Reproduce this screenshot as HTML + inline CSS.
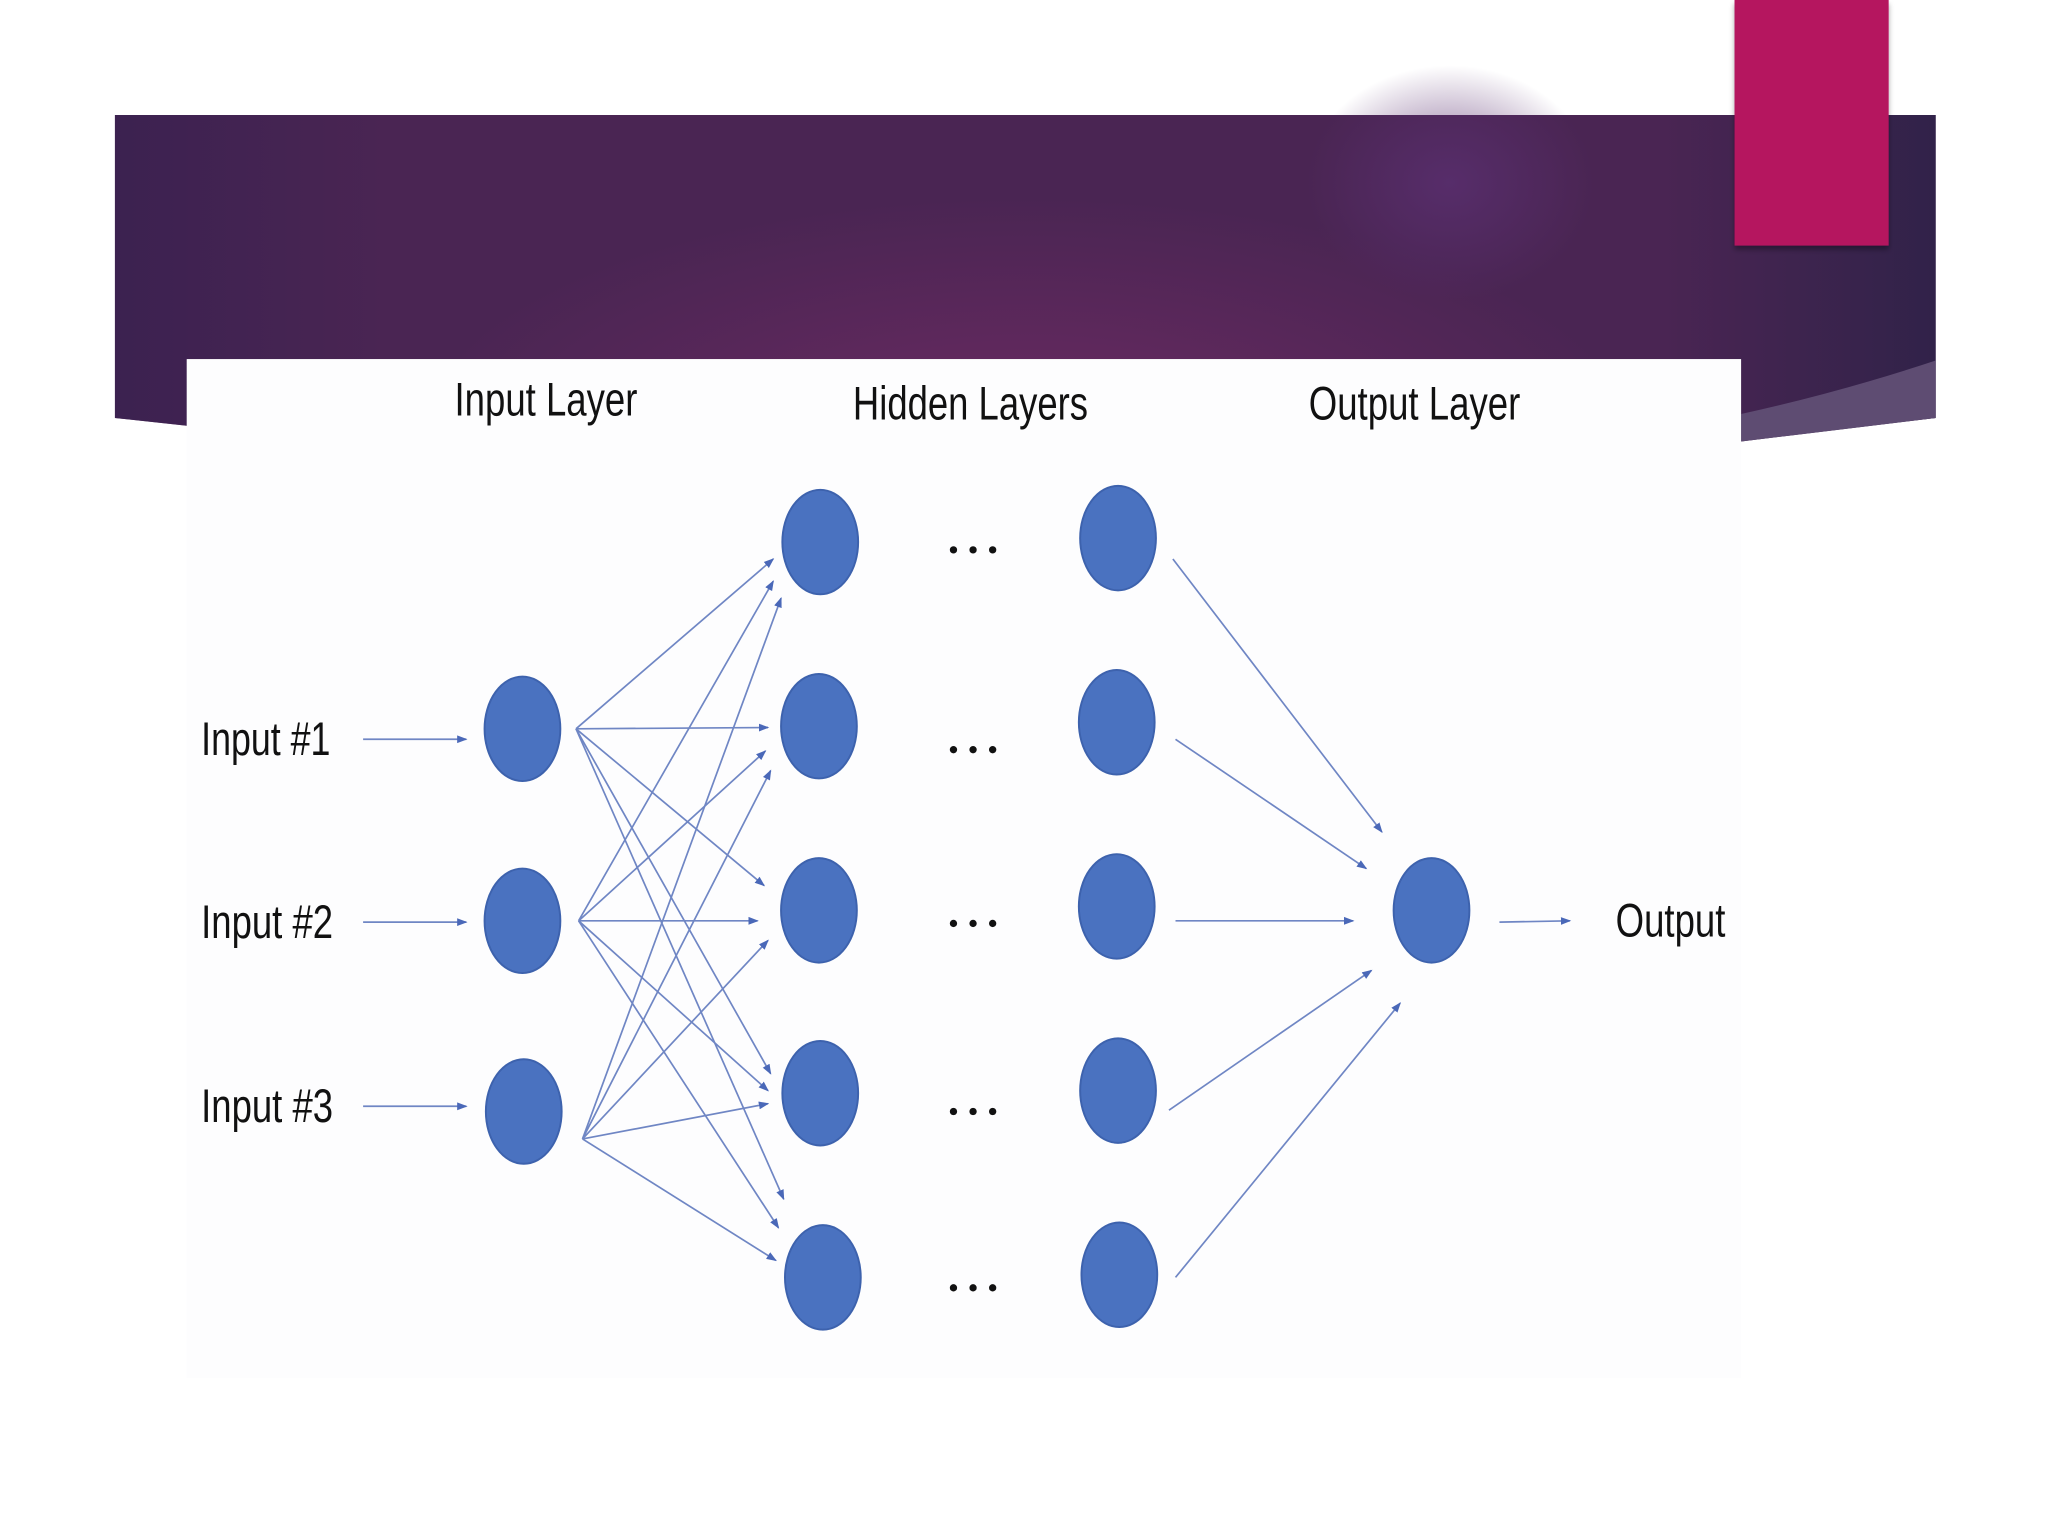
<!DOCTYPE html>
<html><head><meta charset="utf-8"><style>
html,body{margin:0;padding:0;background:#fff;}
svg{display:block;}
text{font-family:"Liberation Sans Narrow","Liberation Sans",sans-serif;fill:#111;}
</style></head><body>
<svg width="2048" height="1536" viewBox="0 0 1568 1176" preserveAspectRatio="none" xmlns="http://www.w3.org/2000/svg">
<defs>
<radialGradient id="g1" cx="0.5" cy="1" r="0.75" gradientTransform="translate(0.5 1) scale(0.45 1) translate(-0.5 -1)">
<stop offset="0" stop-color="#6b2a62"/><stop offset="1" stop-color="#4a2553"/>
</radialGradient>
<linearGradient id="g2" x1="0" x2="1" y1="0" y2="0">
<stop offset="0" stop-color="#3a2150" stop-opacity="0.9"/><stop offset="0.15" stop-color="#3a2150" stop-opacity="0"/>
<stop offset="0.85" stop-color="#2e2248" stop-opacity="0"/><stop offset="1" stop-color="#2e2248" stop-opacity="0.9"/>
</linearGradient>
<radialGradient id="g3" cx="0.5" cy="0.5" r="0.5"><stop offset="0" stop-color="#5a2f70" stop-opacity="0.8"/><stop offset="1" stop-color="#5a2f70" stop-opacity="0"/></radialGradient>
<marker id="a" markerWidth="8" markerHeight="8" refX="7" refY="4" orient="auto" markerUnits="userSpaceOnUse">
<path d="M0,1 L8,4 L0,7 Z" fill="#4a68b8"/></marker>
<filter id="sh" x="-10%" y="-10%" width="120%" height="120%"><feDropShadow dx="0" dy="3" stdDeviation="2" flood-color="#000" flood-opacity="0.35"/></filter>
</defs>
<rect width="1568" height="1176" fill="#fff"/>
<path d="M88,88 H1482 V320 L1333,338 V275 H143 V326 L88,320 Z" fill="url(#g1)"/>
<path d="M88,88 H1482 V320 L1333,338 V275 H143 V326 L88,320 Z" fill="url(#g2)"/>
<ellipse cx="1110" cy="140" rx="110" ry="90" fill="url(#g3)"/>
<path d="M1333,317 Q1410,300 1482,276 V320 Q1400,330 1333,338 Z" fill="#5e4c72"/>
<rect x="1328" y="0" width="118" height="188" fill="#b5135e" filter="url(#sh)"/>
<rect x="143" y="275" width="1190" height="780" fill="#fdfdfe"/>

<text x="348" y="318" font-size="36" textLength="140" lengthAdjust="spacingAndGlyphs">Input Layer</text>
<text x="653" y="321" font-size="36" textLength="180" lengthAdjust="spacingAndGlyphs">Hidden Layers</text>
<text x="1002" y="321" font-size="36" textLength="162" lengthAdjust="spacingAndGlyphs">Output Layer</text>
<text x="154" y="578" font-size="36" textLength="99" lengthAdjust="spacingAndGlyphs">Input #1</text>
<text x="154" y="718" font-size="36" textLength="101" lengthAdjust="spacingAndGlyphs">Input #2</text>
<text x="154" y="859" font-size="36" textLength="101" lengthAdjust="spacingAndGlyphs">Input #3</text>
<text x="1237" y="717" font-size="36" textLength="84" lengthAdjust="spacingAndGlyphs">Output</text>

<g stroke="#6f86c4" stroke-width="1.3" fill="none" marker-end="url(#a)">
<line x1="278" y1="566" x2="357" y2="566"/>
<line x1="278" y1="706" x2="357" y2="706"/>
<line x1="278" y1="847" x2="357" y2="847"/>
<line x1="1148" y1="706" x2="1202" y2="705"/>
<line x1="441" y1="558" x2="592" y2="428"/>
<line x1="441" y1="558" x2="588" y2="557"/>
<line x1="441" y1="558" x2="585" y2="678"/>
<line x1="441" y1="558" x2="590" y2="822"/>
<line x1="441" y1="558" x2="600" y2="918"/>
<line x1="443" y1="705" x2="592" y2="445"/>
<line x1="443" y1="705" x2="586" y2="575"/>
<line x1="443" y1="705" x2="580" y2="705"/>
<line x1="443" y1="705" x2="588" y2="835"/>
<line x1="443" y1="705" x2="596" y2="940"/>
<line x1="446" y1="872" x2="598" y2="458"/>
<line x1="446" y1="872" x2="590" y2="590"/>
<line x1="446" y1="872" x2="588" y2="720"/>
<line x1="446" y1="872" x2="588" y2="845"/>
<line x1="446" y1="872" x2="594" y2="965"/>
<line x1="898" y1="428" x2="1058" y2="637"/>
<line x1="900" y1="566" x2="1046" y2="665"/>
<line x1="900" y1="705" x2="1036" y2="705"/>
<line x1="895" y1="850" x2="1050" y2="743"/>
<line x1="900" y1="978" x2="1072" y2="768"/>
</g>

<g fill="#4a72c0" stroke="#3d62ad" stroke-width="1.5">
<ellipse cx="400" cy="558" rx="29" ry="40"/>
<ellipse cx="400" cy="705" rx="29" ry="40"/>
<ellipse cx="401" cy="851" rx="29" ry="40"/>
<ellipse cx="628" cy="415" rx="29" ry="40"/>
<ellipse cx="627" cy="556" rx="29" ry="40"/>
<ellipse cx="627" cy="697" rx="29" ry="40"/>
<ellipse cx="628" cy="837" rx="29" ry="40"/>
<ellipse cx="630" cy="978" rx="29" ry="40"/>
<ellipse cx="856" cy="412" rx="29" ry="40"/>
<ellipse cx="855" cy="553" rx="29" ry="40"/>
<ellipse cx="855" cy="694" rx="29" ry="40"/>
<ellipse cx="856" cy="835" rx="29" ry="40"/>
<ellipse cx="857" cy="976" rx="29" ry="40"/>
<ellipse cx="1096" cy="697" rx="29" ry="40"/>
</g>
<g fill="#111">
<circle cx="730" cy="421" r="2.8"/><circle cx="745" cy="421" r="2.8"/><circle cx="760" cy="421" r="2.8"/>
<circle cx="730" cy="574" r="2.8"/><circle cx="745" cy="574" r="2.8"/><circle cx="760" cy="574" r="2.8"/>
<circle cx="730" cy="707" r="2.8"/><circle cx="745" cy="707" r="2.8"/><circle cx="760" cy="707" r="2.8"/>
<circle cx="730" cy="851" r="2.8"/><circle cx="745" cy="851" r="2.8"/><circle cx="760" cy="851" r="2.8"/>
<circle cx="730" cy="986" r="2.8"/><circle cx="745" cy="986" r="2.8"/><circle cx="760" cy="986" r="2.8"/>
</g>
</svg>
</body></html>
